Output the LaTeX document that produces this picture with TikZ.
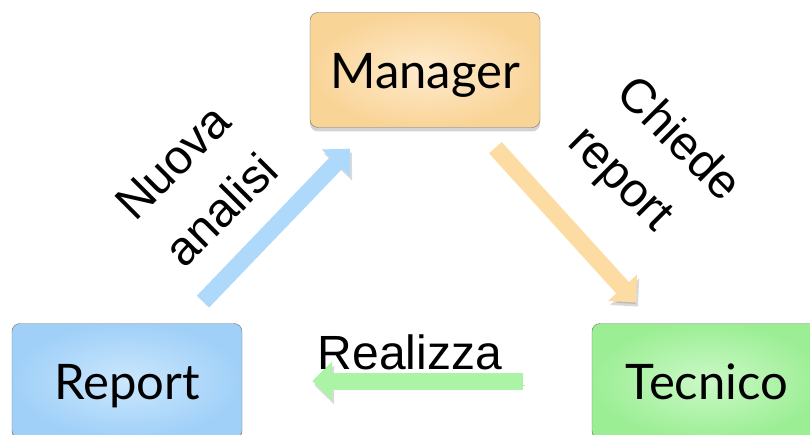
\documentclass[tikz,border=0pt]{standalone}
\usepackage{fontspec}
\usetikzlibrary{arrows.meta, shadows}
\newfontfamily\boxfont{Lato}
\newfontfamily\lblfont{Liberation Sans}
\definecolor{mgrIn}{HTML}{FFEBCE}
\definecolor{mgrOut}{HTML}{F9D497}
\definecolor{repIn}{HTML}{CBE7FD}
\definecolor{repOut}{HTML}{A0D0F8}
\definecolor{tecIn}{HTML}{CBF9C7}
\definecolor{tecOut}{HTML}{9CEE95}
\definecolor{blueflow}{HTML}{AFD9FB}
\definecolor{orangeflow}{HTML}{FDDCA4}
\definecolor{greenflow}{HTML}{ABF3A5}
\tikzset{box/.style = {draw = black!55, rounded corners = 8pt, minimum width = 230pt,
    minimum height = 115pt, inner sep = 0, text height = 37pt, text depth = 0pt,
    font = \boxfont\fontsize{49}{55}\selectfont,
    drop shadow = {shadow xshift = 0pt, shadow yshift = -4pt, opacity = 0.35}}}
\tikzset{flow/.style = {line width = 17pt, -{Triangle[length = 20pt, width = 38pt]},
    preaction = {draw = black, opacity = 0.15, transform canvas = {shift = {(2pt, -4pt)}}}}}
\tikzset{lbl/.style = {inner sep = 0, font = \lblfont\fontsize{48}{68}\selectfont}}

\begin{document}
\begin{tikzpicture}[x = 1pt, y = -1pt]
    \useasboundingbox (0, 0) rectangle (810, 435);

    \node [box, inner color = mgrIn, outer color = mgrOut] (manager) at (425, 70) {Manager};
    \node [box, inner color = repIn, outer color = repOut] (report) at (127, 381) {Report};
    \node [box, inner color = tecIn, outer color = tecOut] (tecnico) at (707, 381) {Tecnico};

    \draw [flow, blueflow, shorten < = 30pt, shorten > = 29pt] (report) -- (manager);
    \draw [flow, orangeflow, shorten < = 27pt, shorten > = 28pt] (manager) -- (tecnico);
    \draw [flow, greenflow, shorten < = 69pt, shorten > = 70pt] (tecnico) -- (report);

    \node [lbl, align = center, rotate = 45] (nuova) at (197, 186) {Nuova\\analisi};
    \node [lbl, align = left, rotate = -45] (chiede) at (653, 165) {Chiede\\report};
    \node [lbl, anchor = base] (realizza) at (410, 369) {Realizza};
  \end{tikzpicture}
\end{document}
